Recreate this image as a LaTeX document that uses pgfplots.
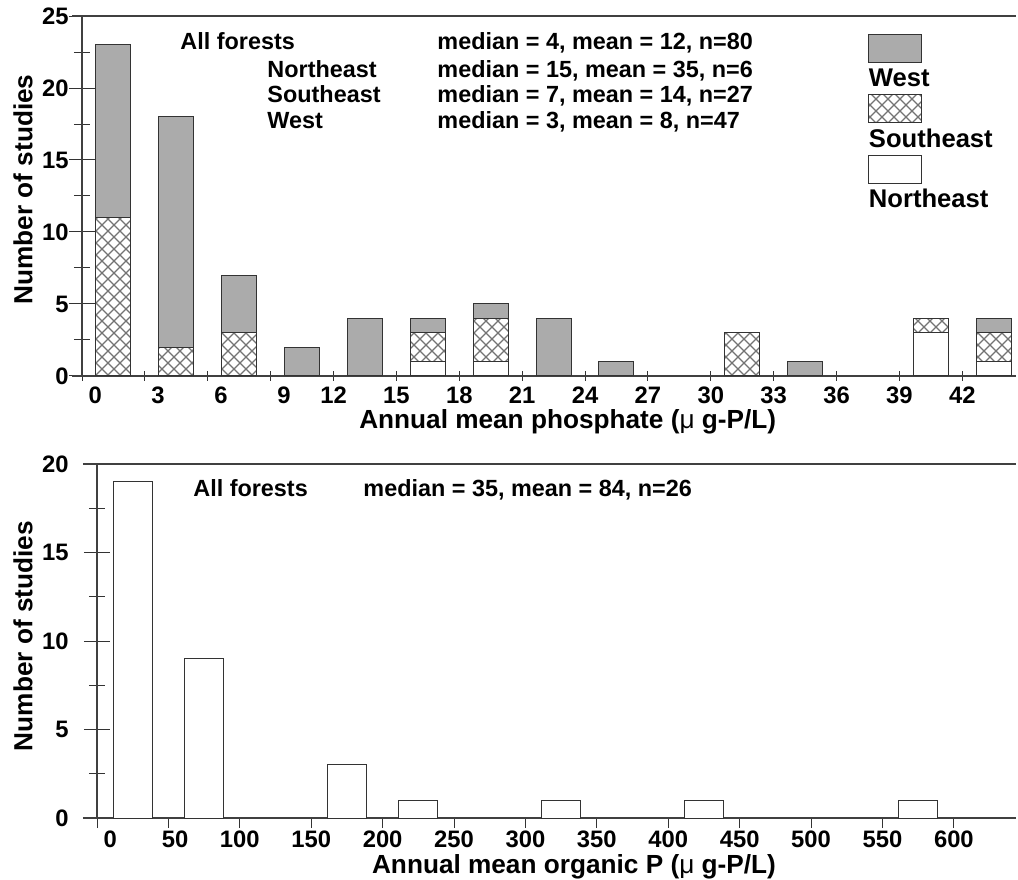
\documentclass[border=0pt]{standalone}
\usepackage{fontspec}
\setmainfont{Liberation Sans}
\usepackage{pgfplots}
\pgfplotsset{compat=1.18}
\usetikzlibrary{patterns}

% diagonal cross-hatch for the Southeast bars
\pgfdeclarepatternformonly{diagcross}{\pgfpoint{-1pt}{-1pt}}{\pgfpoint{7pt}{7pt}}{\pgfpoint{6pt}{6pt}}{%
  \pgfsetlinewidth{0.6pt}%
  \pgfpathmoveto{\pgfpoint{0pt}{0pt}}\pgfpathlineto{\pgfpoint{6pt}{6pt}}%
  \pgfpathmoveto{\pgfpoint{0pt}{6pt}}\pgfpathlineto{\pgfpoint{6pt}{0pt}}%
  \pgfusepath{stroke}}

\tikzset{note/.style={anchor=base west, inner sep=0pt, font=\fontsize{11.7}{13}\selectfont\bfseries}}

\pgfplotsset{
  fig/.style={
    scale only axis,
    axis x line=box, axis y line=left,
    xtick pos=lower,
    y axis line style={-},
    axis line style={black!75, line width=0.6pt},
    tick align=center,
    major tick length=13pt, minor tick length=8pt,
    minor y tick num=1,
    xtick style={/pgfplots/major tick length=5pt},
    every tick/.append style={black!80, line width=0.5pt},
    tick label style={font=\fontsize{11.9}{13}\selectfont\bfseries},
    /pgf/number format/assume math mode=true,
    label style={font=\fontsize{13.1}{14}\selectfont\bfseries},
  },
  lgd/.style={legend image code/.code={\draw[##1, overlay] (0pt,9.8pt) rectangle (26.5pt,23.8pt);}},
}

\begin{document}
\begin{tikzpicture}
\path[use as bounding box] (0,0) rectangle (509pt,439.5pt);

% ---------- phosphate ----------
\begin{axis}[fig,
  at={(41pt,251.5pt)}, anchor=south west,
  width=467pt, height=180pt,
  xmin=0, xmax=44.56, ymin=0, ymax=25,
  xtick={0,3,...,42},
  xticklabels={\hphantom{00}0,\hphantom{00}3,\hphantom{00}6,\hphantom{00}9,12,15,18,21,24,27,30,33,36,39,42},
  ytick={0,5,...,25},
  xticklabel style={yshift=4.5pt},
  yticklabel style={xshift=3.3pt},
  x axis line style={shorten <=-5pt},
  ybar stacked, bar width=1.67,
  xlabel={Annual mean phosphate ({\mdseries μ} g-P/L)},
  ylabel={Number of studies},
  xlabel style={at={(axis description cs:0.52,-0.145)}, anchor=base},
  ylabel style={at={(axis description cs:-0.0632,0.518)}, anchor=center},
  legend style={at={(0.8426,0.845)}, anchor=north west, draw=none, fill=none,
    inner sep=0pt, outer sep=0pt, row sep=20.2pt, column sep=0pt,
    font=\fontsize{12.8}{13}\selectfont\bfseries,
    nodes={inner sep=0pt, text height=0.75em, text depth=0.25em}},
  legend cell align=left,
  reverse legend,
]
% Northeast
\addplot[draw=black!80, line width=0.5pt, fill=white, lgd] coordinates {
  (1.5,0) (4.5,0) (7.5,0) (10.5,0) (13.5,0) (16.5,1) (19.5,1)
  (22.5,0) (25.5,0) (31.5,0) (34.5,0) (40.5,3) (43.5,1)};
% Southeast
\addplot[draw=black!80, line width=0.5pt, pattern=diagcross, pattern color=black!55, lgd] coordinates {
  (1.5,11) (4.5,2) (7.5,3) (10.5,0) (13.5,0) (16.5,2) (19.5,3)
  (22.5,0) (25.5,0) (31.5,3) (34.5,0) (40.5,1) (43.5,2)};
% West
\addplot[draw=black!80, line width=0.5pt, fill=black!33, lgd] coordinates {
  (1.5,12) (4.5,16) (7.5,4) (10.5,2) (13.5,4) (16.5,1) (19.5,1)
  (22.5,4) (25.5,1) (31.5,0) (34.5,1) (40.5,0) (43.5,1)};
\legend{Northeast, Southeast, West}

\node[note] at (axis cs:4.68,22.64) {All forests};
\node[note] at (axis cs:8.83,20.76) {Northeast};
\node[note] at (axis cs:8.83,18.96) {Southeast};
\node[note] at (axis cs:8.83,17.20) {West};
\node[note] at (axis cs:16.94,22.64) {median = 4, mean = 12, n=80};
\node[note] at (axis cs:16.94,20.76) {median = 15, mean = 35, n=6};
\node[note] at (axis cs:16.94,18.96) {median = 7, mean = 14, n=27};
\node[note] at (axis cs:16.94,17.20) {median = 3, mean = 8, n=47};
\end{axis}

% ---------- organic P ----------
\begin{axis}[fig,
  at={(48.5pt,30.5pt)}, anchor=south west,
  width=459.5pt, height=177pt,
  xmin=0, xmax=643.5, ymin=0, ymax=20,
  xtick={0,50,...,600},
  xticklabels={\hphantom{00}0,\hphantom{0}50,100,150,200,250,300,350,400,450,500,550,600},
  ytick={0,5,...,20},
  xticklabel style={yshift=10.3pt},
  yticklabel style={xshift=-4.2pt},
  x axis line style={shorten <=-7pt},
  ybar, bar width=27.3,
  xlabel={Annual mean organic P ({\mdseries μ} g-P/L)},
  ylabel={Number of studies},
  xlabel style={at={(axis description cs:0.519,-0.156)}, anchor=base},
  ylabel style={at={(axis description cs:-0.0805,0.514)}, anchor=center},
]
\addplot[draw=black!80, line width=0.5pt, fill=white] coordinates {
  (25,19) (75,9) (175,3) (225,1) (325,1) (425,1) (575,1)};

\node[note] at (axis cs:67.2,18.14) {All forests};
\node[note] at (axis cs:186.3,18.14) {median = 35, mean = 84, n=26};
\end{axis}
\end{tikzpicture}
\end{document}
